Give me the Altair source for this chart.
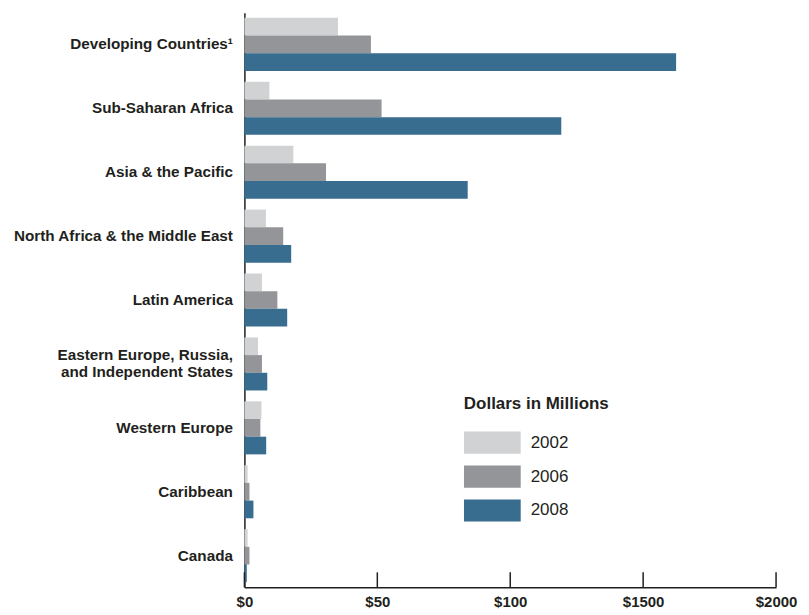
import altair as alt
import pandas as pd

categories = [
    "Developing Countries\u00b9",
    "Sub-Saharan Africa",
    "Asia & the Pacific",
    "North Africa & the Middle East",
    "Latin America",
    "Eastern Europe, Russia,\nand Independent States",
    "Western Europe",
    "Caribbean",
    "Canada",
]
years = ["2002", "2006", "2008"]
v2002 = [35.2, 9.4, 18.4, 8.1, 6.6, 5.1, 6.4, 1.2, 1.2]
v2006 = [47.6, 51.6, 30.7, 14.6, 12.4, 6.6, 6.0, 1.9, 1.9]
v2008 = [162.4, 119.2, 84.0, 17.6, 16.1, 8.6, 8.2, 3.4, 0.9]
tick_values = [0, 50, 100, 150, 200]
colors = ["#d1d2d4", "#939598", "#386d8f"]

rows = []
for series, year in zip([v2002, v2006, v2008], years):
    for c, v in zip(categories, series):
        rows.append({"region": c, "year": year, "value": v})
df = pd.DataFrame(rows)
ticks_df = pd.DataFrame({"value": tick_values})

FONT = "Liberation Sans"
DARK = "#231f20"
W, H = 533, 576

x_scale = alt.Scale(domain=[0, 200], nice=False)
x_axis = alt.Axis(
    values=tick_values,
    labelExpr="datum.value == 150 ? '$1500' : datum.value == 200 ? '$2000' : '$' + datum.value",
    ticks=False, grid=False, domainColor=DARK, domainWidth=1.5,
    labelFont=FONT, labelFontSize=15, labelFontWeight="bold", labelColor=DARK,
    labelPadding=7, title=None, labelFlush=False,
)

bars = alt.Chart(df).mark_bar().encode(
    x=alt.X("value:Q", scale=x_scale, axis=x_axis),
    y=alt.Y(
        "region:N", sort=categories,
        scale=alt.Scale(paddingInner=0.17, paddingOuter=0.08),
        axis=alt.Axis(
            title=None, ticks=False, domainColor=DARK, domainWidth=1.5,
            labelFont=FONT, labelFontSize=15.3, labelFontWeight="bold", labelColor=DARK,
            labelPadding=12, labelLimit=400, labelLineHeight=17,
            labelExpr="split(datum.label, '\\n')",
            labelOffset={"condition": {"test": "indexof(datum.value, '\\n') >= 0", "value": -8.5}, "value": 0},
        ),
    ),
    yOffset=alt.YOffset("year:N", scale=alt.Scale(paddingInner=0, paddingOuter=0)),
    color=alt.Color(
        "year:N",
        scale=alt.Scale(domain=years, range=colors),
        legend=alt.Legend(
            title="Dollars in Millions", orient="none", legendX=220, legendY=384,
            titleFont=FONT, titleFontSize=17, titleFontWeight="bold", titleColor=DARK,
            titlePadding=18,
            labelFont=FONT, labelFontSize=17, labelFontWeight="normal", labelColor=DARK,
            labelOffset=10,
            symbolType="M -1 -0.39 L 1 -0.39 L 1 0.39 L -1 0.39 Z",
            symbolSize=3249, symbolStrokeWidth=0,
            clipHeight=24, rowPadding=10,
        ),
    ),
)

tick_rules = alt.Chart(ticks_df).mark_rule(color=DARK, strokeWidth=1.5).encode(
    x=alt.X("value:Q", scale=x_scale, axis=x_axis),
    y=alt.value(H - 15),
    y2=alt.value(H),
)

chart = alt.layer(bars, tick_rules).properties(
    width=W, height=H,
    autosize=alt.AutoSizeParams(type="none"),
    padding={"left": 237, "top": 4, "right": 25, "bottom": 25},
    background="white",
).configure_view(stroke=None)

chart.save("out.html", embed_options={"renderer": "svg", "actions": False})
